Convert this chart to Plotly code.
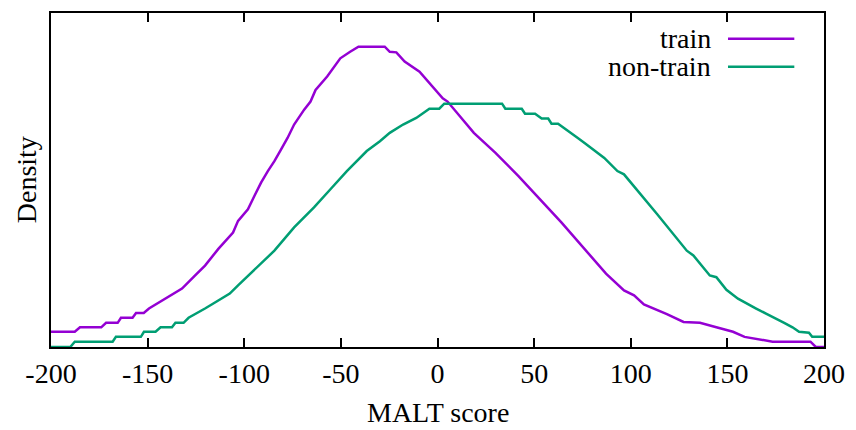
import plotly.graph_objects as go

# MALT score (x) and density (x1e-4) for each series
train_x = [-200, -187.7, -185, -174, -171.5, -165.5, -163.8, -157.8, -156, -152, -149.3, -145,
           -140.7, -136.5, -132.2, -125.4, -120.3, -113.4, -105.8, -103.2, -98.1, -94.7, -91.3,
           -87.8, -84.4, -81, -77.6, -74.2, -69, -65.7, -63.1, -57.1, -50.3, -45.2, -40.9, -27.3,
           -24.7, -21.3, -17, -9.3, 2.7, 5.2, 18.8, 30, 41.9, 64.1, 87.2, 96.5, 101.7, 106.8,
           111.9, 118.7, 127.3, 135.8, 144.3, 152.9, 158.9, 173.4, 193, 195.6, 200]
train_y = [5.1, 5.1, 6.6, 6.6, 8.1, 8.1, 9.8, 9.8, 11.4, 11.4, 12.9, 14.6,
           16.2, 17.9, 19.6, 24.0, 27.3, 32.9, 38.4, 42.3, 46.2, 50.7, 55.1,
           59.0, 62.3, 66.2, 70.1, 74.6, 79.6, 82.3, 86.2, 90.7, 96.8, 99.0, 100.7, 100.7,
           99.0, 98.8, 95.7, 92.3, 83.4, 82.3, 71.8, 65.1, 57.3, 41.8, 24.6, 19.0, 17.3, 14.3,
           12.9, 11.0, 8.4, 8.1, 6.6, 5.1, 3.4, 1.8, 1.8, 0.1, 0.0]

nontrain_x = [-200, -190, -187.7, -168.1, -166.4, -153.5, -151.9, -145.9, -143.3, -137.4, -135.6,
              -131.4, -128.8, -124.6, -120.3, -116, -111.8, -107.5, -103.2, -94.7, -84.4, -74.2,
              -63.9, -55.4, -46.9, -36.6, -29.8, -24.7, -17.8, -11, -4.2, 0.9, 3.5, 33.4, 35.1,
              43.6, 45.3, 50.5, 53.9, 57.3, 59, 62.4, 65.8, 69.2, 72.6, 76.1, 79.5, 86.3, 93.1,
              96.5, 113.6, 129, 132.4, 140.9, 144.3, 149.5, 155.5, 159.8, 164.9, 170, 175.2,
              179.4, 183.7, 187.1, 192.2, 193.9, 200]
nontrain_y = [0.0, 0.0, 1.8, 1.8, 3.4, 3.4, 5.1, 5.1, 6.6, 6.6, 8.1,
              8.1, 9.8, 11.2, 12.9, 14.6, 16.2, 17.9, 20.7, 25.9, 32.3, 40.1,
              46.8, 52.9, 59.0, 65.7, 69.0, 71.8, 74.6, 76.8, 79.9, 79.9, 81.6, 81.6, 79.9,
              79.9, 78.2, 78.2, 76.6, 76.6, 74.9, 74.9, 73.2, 71.8, 70.1, 68.4, 66.8, 63.4, 59.0,
              57.9, 44.6, 32.3, 30.7, 24.0, 23.4, 19.2, 16.2, 14.6, 12.9, 11.2, 9.6,
              8.1, 6.6, 5.1, 4.8, 3.4, 3.4]

x_ticks = [-200, -150, -100, -50, 0, 50, 100, 150, 200]
series_names = ["train", "non-train"]
colors = ["#9400D3", "#009E73"]

FONT = "Liberation Serif"

fig = go.Figure()
fig.add_trace(go.Scatter(x=train_x, y=[v * 1e-4 for v in train_y], mode="lines",
                         name=series_names[0], line=dict(color=colors[0], width=2.5),
                         showlegend=False))
fig.add_trace(go.Scatter(x=nontrain_x, y=[v * 1e-4 for v in nontrain_y], mode="lines",
                         name=series_names[1], line=dict(color=colors[1], width=2.5),
                         showlegend=False))

# gnuplot-style key: text on the left, line sample on the right
key_y = [0.9226, 0.8393]
for name, col, ky in zip(series_names, colors, key_y):
    fig.add_annotation(x=0.8566, y=ky, xref="paper", yref="paper", text=name,
                       showarrow=False, xanchor="right", yanchor="middle",
                       font=dict(family=FONT, size=28, color="black"))
    fig.add_shape(type="line", xref="paper", yref="paper", x0=0.8758, x1=0.9616,
                  y0=ky, y1=ky, line=dict(color=col, width=2.5))

fig.add_annotation(x=-0.032, y=0.5, xref="paper", yref="paper", text="Density",
                   textangle=-90, showarrow=False, xanchor="center", yanchor="middle",
                   font=dict(family=FONT, size=28, color="black"))
fig.add_annotation(x=0.5, y=-0.196, xref="paper", yref="paper", text="MALT score",
                   showarrow=False, xanchor="center", yanchor="middle",
                   font=dict(family=FONT, size=28, color="black"))

fig.update_xaxes(range=[-200, 200], tickvals=x_ticks, ticktext=[str(t) for t in x_ticks],
                 ticks="inside", ticklen=9, tickwidth=2, tickcolor="black",
                 showline=True, linewidth=2, linecolor="black", mirror="ticks",
                 showgrid=False, zeroline=False,
                 tickfont=dict(family=FONT, size=28, color="black"))
fig.update_yaxes(range=[0, 0.0112], showticklabels=False, ticks="",
                 showline=True, linewidth=2, linecolor="black", mirror=True,
                 showgrid=False, zeroline=False)

fig.update_layout(width=856, height=430, margin=dict(l=51, r=24, t=11, b=83),
                  paper_bgcolor="white", plot_bgcolor="white",
                  font=dict(family=FONT, color="black"))

fig.write_html("out.html")
